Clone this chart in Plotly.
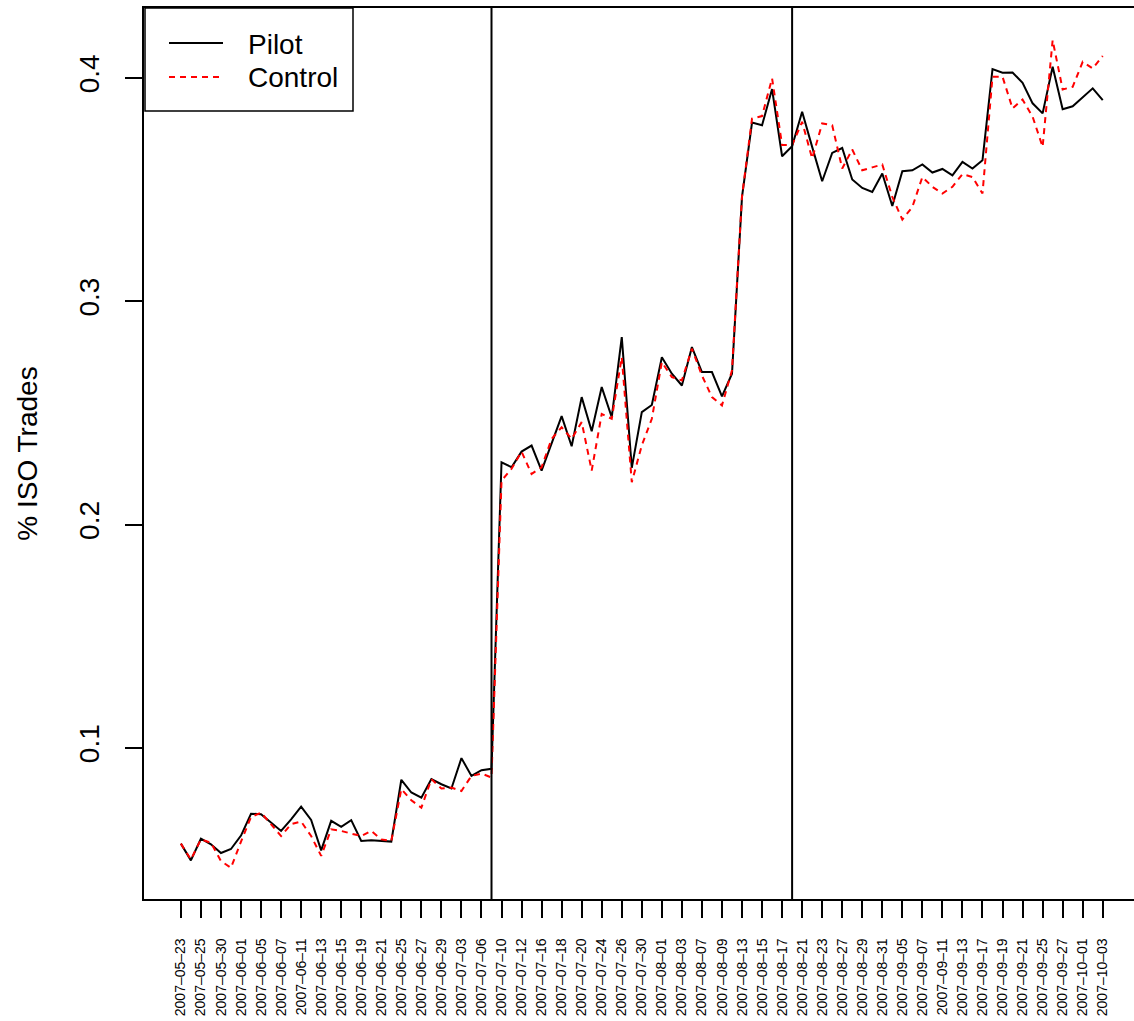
import plotly.graph_objects as go

# Trading days covered by the series
dates = [
    "2007-05-23", "2007-05-24", "2007-05-25", "2007-05-29", "2007-05-30", "2007-05-31",
    "2007-06-01", "2007-06-04", "2007-06-05", "2007-06-06", "2007-06-07", "2007-06-08",
    "2007-06-11", "2007-06-12", "2007-06-13", "2007-06-14", "2007-06-15", "2007-06-18",
    "2007-06-19", "2007-06-20", "2007-06-21", "2007-06-22", "2007-06-25", "2007-06-26",
    "2007-06-27", "2007-06-28", "2007-06-29", "2007-07-02", "2007-07-03", "2007-07-05",
    "2007-07-06", "2007-07-09", "2007-07-10", "2007-07-11", "2007-07-12", "2007-07-13",
    "2007-07-16", "2007-07-17", "2007-07-18", "2007-07-19", "2007-07-20", "2007-07-23",
    "2007-07-24", "2007-07-25", "2007-07-26", "2007-07-27", "2007-07-30", "2007-07-31",
    "2007-08-01", "2007-08-02", "2007-08-03", "2007-08-06", "2007-08-07", "2007-08-08",
    "2007-08-09", "2007-08-10", "2007-08-13", "2007-08-14", "2007-08-15", "2007-08-16",
    "2007-08-17", "2007-08-20", "2007-08-21", "2007-08-22", "2007-08-23", "2007-08-24",
    "2007-08-27", "2007-08-28", "2007-08-29", "2007-08-30", "2007-08-31", "2007-09-04",
    "2007-09-05", "2007-09-06", "2007-09-07", "2007-09-10", "2007-09-11", "2007-09-12",
    "2007-09-13", "2007-09-14", "2007-09-17", "2007-09-18", "2007-09-19", "2007-09-20",
    "2007-09-21", "2007-09-24", "2007-09-25", "2007-09-26", "2007-09-27", "2007-09-28",
    "2007-10-01", "2007-10-02", "2007-10-03",
]

# Share of ISO trades, pilot stocks
pilot = [
    0.0571, 0.0496, 0.0593, 0.0568, 0.0529, 0.0547, 0.0607, 0.0705, 0.0703, 0.0665,
    0.0628, 0.0680, 0.0737, 0.0677, 0.0541, 0.0673, 0.0646, 0.0676, 0.0583, 0.0586,
    0.0584, 0.0580, 0.0857, 0.0800, 0.0777, 0.0860, 0.0837, 0.0818, 0.0954, 0.0874,
    0.0900, 0.0906, 0.2279, 0.2257, 0.2327, 0.2354, 0.2242, 0.2369, 0.2486, 0.2351,
    0.2571, 0.2418, 0.2616, 0.2481, 0.2840, 0.2254, 0.2504, 0.2536, 0.2750, 0.2676,
    0.2623, 0.2795, 0.2683, 0.2683, 0.2574, 0.2676, 0.3468, 0.3801, 0.3789, 0.3951,
    0.3650, 0.3695, 0.3849, 0.3692, 0.3538, 0.3665, 0.3687, 0.3546, 0.3508, 0.3490,
    0.3573, 0.3427, 0.3583, 0.3587, 0.3613, 0.3577, 0.3593, 0.3564, 0.3625, 0.3595,
    0.3632, 0.4040, 0.4024, 0.4025, 0.3979, 0.3887, 0.3842, 0.4051, 0.3861, 0.3874,
    0.3916, 0.3954, 0.3901,
]

# Share of ISO trades, control stocks
control = [
    0.0571, 0.0500, 0.0590, 0.0575, 0.0493, 0.0463, 0.0580, 0.0690, 0.0710, 0.0660,
    0.0605, 0.0658, 0.0670, 0.0605, 0.0516, 0.0635, 0.0628, 0.0616, 0.0605, 0.0628,
    0.0590, 0.0583, 0.0815, 0.0765, 0.0732, 0.0860, 0.0818, 0.0822, 0.0807, 0.0874,
    0.0885, 0.0867, 0.2197, 0.2250, 0.2327, 0.2227, 0.2257, 0.2384, 0.2436, 0.2384,
    0.2459, 0.2242, 0.2496, 0.2474, 0.2750, 0.2190, 0.2355, 0.2474, 0.2728, 0.2661,
    0.2646, 0.2788, 0.2668, 0.2571, 0.2534, 0.2691, 0.3470, 0.3819, 0.3830, 0.3999,
    0.3700, 0.3700, 0.3804, 0.3640, 0.3797, 0.3789, 0.3595, 0.3680, 0.3587, 0.3600,
    0.3613, 0.3468, 0.3366, 0.3423, 0.3557, 0.3513, 0.3483, 0.3513, 0.3570, 0.3557,
    0.3483, 0.4006, 0.4006, 0.3864, 0.3904, 0.3827, 0.3692, 0.4170, 0.3949, 0.3961,
    0.4073, 0.4043, 0.4099,
]

# Event dates marked by vertical rules
event_dates = ["2007-07-09", "2007-08-20"]

y_ticks = [0.1, 0.2, 0.3, 0.4]
y_tick_text = ["0.1", "0.2", "0.3", "0.4"]

FONT = "Liberation Sans, Arial, Helvetica, sans-serif"

x = list(range(len(dates)))
tick_idx = x[::2]
tick_text = [dates[i].replace("-", "\u2013") for i in tick_idx]

fig = go.Figure()
fig.add_trace(go.Scatter(
    x=x, y=pilot, mode="lines", name="Pilot",
    line=dict(color="black", width=2), showlegend=False,
))
fig.add_trace(go.Scatter(
    x=x, y=control, mode="lines", name="Control",
    line=dict(color="#ff0000", width=2, dash="6px,5px"), showlegend=False,
))

for d in event_dates:
    fig.add_shape(type="line", xref="x", yref="paper",
                  x0=dates.index(d), x1=dates.index(d), y0=0, y1=1,
                  line=dict(color="black", width=2))

# Legend box in the top-left corner of the panel
W, H = 1134, 1021
ml, mr, mt, mb = 144, 0, 8, 122
pw, ph = W - ml - mr, H - mt - mb


def px(xp):
    return (xp - ml) / pw


def py(yp):
    return 1 - (yp - mt) / ph


fig.add_shape(type="rect", xref="paper", yref="paper",
              x0=px(145), x1=px(353), y0=py(111), y1=py(8),
              line=dict(color="black", width=1.5), fillcolor="white", layer="above")
fig.add_shape(type="line", xref="paper", yref="paper",
              x0=px(169), x1=px(223), y0=py(43), y1=py(43),
              line=dict(color="black", width=2), layer="above")
fig.add_shape(type="line", xref="paper", yref="paper",
              x0=px(169), x1=px(223), y0=py(77), y1=py(77),
              line=dict(color="#ff0000", width=2, dash="6px,5px"), layer="above")
for label, yy in (("Pilot", 44), ("Control", 78)):
    fig.add_annotation(xref="paper", yref="paper", x=px(246), y=py(yy),
                       text=label, showarrow=False, xanchor="left", yanchor="middle",
                       font=dict(family=FONT, size=28, color="black"))

fig.update_layout(
    width=W, height=H,
    margin=dict(l=ml, r=mr, t=mt, b=mb, pad=0),
    paper_bgcolor="white", plot_bgcolor="white",
    font=dict(family=FONT, color="black"),
    showlegend=False,
    xaxis=dict(
        range=[-3.68, 95.12], showgrid=False, zeroline=False,
        tickmode="array", tickvals=tick_idx, ticktext=tick_text,
        tickangle=-90, tickfont=dict(size=14, family=FONT),
        ticks="outside", ticklen=17, tickwidth=1.5, tickcolor="black",
        ticklabelstandoff=15,
        showline=True, linecolor="black", linewidth=1.5, mirror=True,
    ),
    yaxis=dict(
        range=[0.0323, 0.4314], showgrid=False, zeroline=False,
        tickmode="array", tickvals=y_ticks, ticktext=y_tick_text,
        tickangle=-90, tickfont=dict(size=28, family=FONT),
        ticks="outside", ticklen=17, tickwidth=1.5, tickcolor="black",
        ticklabelstandoff=15,
        showline=True, linecolor="black", linewidth=1.5, mirror=False,
        title=dict(text="% ISO Trades", font=dict(size=28, family=FONT), standoff=28),
    ),
)

fig.write_html("out.html")
